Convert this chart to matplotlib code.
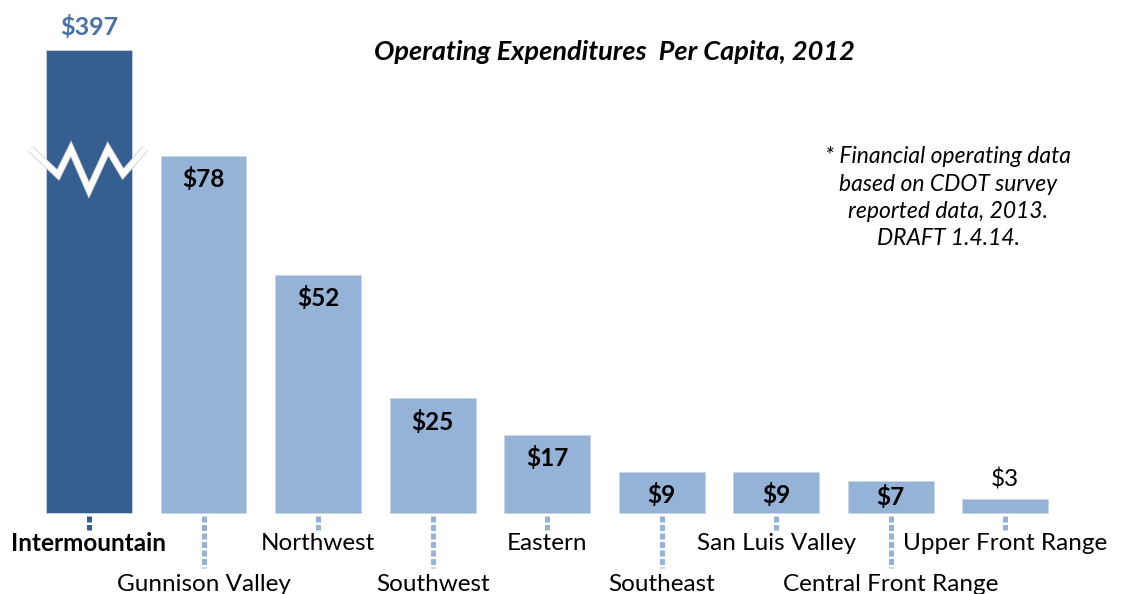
import matplotlib
matplotlib.use('Agg')
import matplotlib.pyplot as plt
import matplotlib.patheffects as pe

# データ
regions = ['Intermountain', 'Gunnison Valley', 'Northwest', 'Southwest', 'Eastern',
           'Southeast', 'San Luis Valley', 'Central Front Range', 'Upper Front Range']
values = [397, 78, 52, 25, 17, 9, 9, 7, 3]
value_labels = ['$397', '$78', '$52', '$25', '$17', '$9', '$9', '$7', '$3']
low_label = [False, True, False, True, False, True, False, True, False]
axis_cap = 101  # the Intermountain bar is drawn broken at this height

plt.rcParams['font.family'] = ['Lato', 'DejaVu Sans']

dark = '#365f91'
light = '#95b3d7'
cols = [dark] + [light] * (len(values) - 1)

fig = plt.figure(figsize=(11.22, 5.94), dpi=100)
ax = fig.add_axes([0, 0, 1, 1])
ax.set_xlim(-0.777, 9.02)
ax.set_ylim(-17.7, 112)
ax.axis('off')

x = list(range(len(values)))
heights = [min(v, axis_cap) for v in values]
bars = ax.bar(x, heights, width=0.75, color=cols, edgecolor='#c8d6e8', linewidth=0.6)

# value labels
for i, (b, v, s) in enumerate(zip(bars, values, value_labels)):
    xc = b.get_x() + b.get_width() / 2
    h = b.get_height()
    if i == 0:
        ax.annotate(s, (xc, h), xytext=(0, 8), textcoords='offset points',
                    ha='center', va='bottom', fontsize=18, fontweight='bold',
                    color='#4a72a6')
    elif v < 5:
        ax.annotate(s, (xc, h), xytext=(0, 6), textcoords='offset points',
                    ha='center', va='bottom', fontsize=17.5, color='black')
    else:
        off = -8 if v >= 8 else -3
        ax.annotate(s, (xc, h), xytext=(0, off), textcoords='offset points',
                    ha='center', va='top', fontsize=17.5, fontweight='bold',
                    color='black')

# category labels with dotted leaders
for i, (name, low) in enumerate(zip(regions, low_label)):
    c = cols[i]
    y_end = -12.0 if low else -3.7
    ax.vlines(i, -0.6, y_end, colors=c, linewidth=3.6, linestyles=(0, (1.2, 0.5)))
    ty = -15.6 if low else -6.6
    ax.text(i, ty, name, ha='center', va='center', fontsize=17.5,
            fontweight='bold' if i == 0 else 'normal', color='black')

# axis break on the first bar
zx = [-0.51, -0.27, -0.157, 0.0, 0.166, 0.297, 0.49]
zy = [79.5, 73.8, 79.5, 70.5, 79.5, 74.0, 79.5]
ax.plot(zx, zy, color='white', linewidth=4, solid_joinstyle='miter',
        solid_capstyle='butt',
        path_effects=[pe.Stroke(linewidth=5.2, foreground='#d0d0d0'), pe.Normal()])

ax.text(0.548, 0.912, 'Operating Expenditures  Per Capita, 2012', transform=fig.transFigure,
        ha='center', va='center', fontsize=19.5, fontstyle='italic', fontweight='bold')

ax.text(0.845, 0.667, '* Financial operating data\nbased on CDOT survey\nreported data, 2013.\nDRAFT 1.4.14.',
        transform=fig.transFigure, ha='center', va='center', fontsize=16.5,
        fontstyle='italic', linespacing=1.38)

plt.savefig('out.png', dpi=100)
